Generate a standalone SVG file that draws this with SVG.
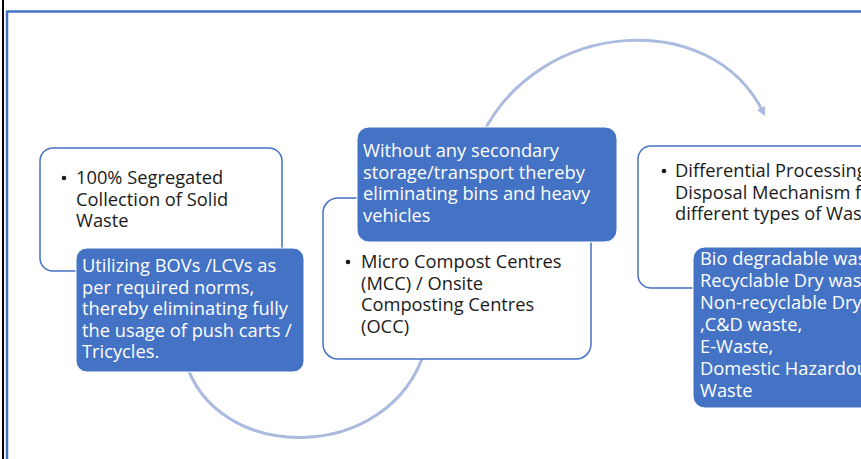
<svg xmlns="http://www.w3.org/2000/svg" width="861" height="459" viewBox="0 0 861 459">
<style>
.wbox{fill:#fff;stroke:#4472C4;stroke-width:1.5}
.bbox{fill:#4472C4;stroke:#fff;stroke-width:1}
.arc{fill:none;stroke:#ABBADF;stroke-width:3}
text{font-family:"Open Sans","Liberation Sans",sans-serif;font-size:18.3px}
.dk{fill:#1a1a1a}
.wt{fill:#fff}
</style>
<defs>
<marker id="ah" viewBox="0 0 10 10" refX="5" refY="5" markerWidth="3" markerHeight="3" orient="auto" markerUnits="strokeWidth">
<path d="M0,0 L10,5 L0,10 z" fill="#ABBADF"/>
</marker>
</defs>
<rect x="0" y="0" width="861" height="459" fill="#fff"/>
<g id="frame">
<line x1="3" y1="0" x2="3" y2="459" stroke="#000" stroke-width="2"/>
<line x1="6" y1="11.5" x2="861" y2="11.5" stroke="#4472C4" stroke-width="2.5"/>
<line x1="7" y1="11" x2="7" y2="459" stroke="#4472C4" stroke-width="2.5"/>
</g>
<g id="connectors">
<path class="arc" d="M 482 135 C 540 18, 712 8, 763 112" marker-end="url(#ah)"/>
<path class="arc" d="M 185 360 C 215 465, 390 465, 425 350"/>
</g>
<g id="node1">
<rect class="wbox" x="40" y="148" width="242" height="123" rx="13"/>
<circle cx="64" cy="178" r="2.3" fill="#1a1a1a"/>
<text class="dk"><tspan x="76" y="184">100% Segregated</tspan><tspan x="76" y="205.5">Collection of Solid</tspan><tspan x="76" y="227">Waste</tspan></text>
</g>
<g id="node1b">
<rect class="bbox" x="76" y="248" width="228" height="124" rx="11"/>
<text class="wt"><tspan x="82" y="272">Utilizing BOVs /LCVs as</tspan><tspan x="82" y="293.5">per required norms,</tspan><tspan x="82" y="315">thereby eliminating fully</tspan><tspan x="82" y="336.5">the usage of push carts /</tspan><tspan x="82" y="358">Tricycles.</tspan></text>
</g>
<g id="node2">
<rect class="wbox" x="323" y="198" width="268" height="161" rx="15"/>
<circle cx="348" cy="262" r="2.3" fill="#1a1a1a"/>
<text class="dk"><tspan x="361" y="268">Micro Compost Centres</tspan><tspan x="361" y="289.5">(MCC) / Onsite</tspan><tspan x="361" y="311">Composting Centres</tspan><tspan x="361" y="332.5">(OCC)</tspan></text>
</g>
<g id="node2b">
<rect class="bbox" x="357" y="127" width="260" height="115" rx="12"/>
<text class="wt"><tspan x="363" y="157">Without any secondary</tspan><tspan x="363" y="178.5">storage/transport thereby</tspan><tspan x="363" y="200">eliminating bins and heavy</tspan><tspan x="363" y="221.5">vehicles</tspan></text>
</g>
<g id="node3">
<rect class="wbox" x="638" y="146" width="240" height="142" rx="13"/>
<circle cx="664" cy="171" r="2.3" fill="#1a1a1a"/>
<text class="dk"><tspan x="675" y="177">Differential Processing</tspan><tspan x="675" y="198.5">Disposal Mechanism for</tspan><tspan x="675" y="220">different types of Waste</tspan></text>
</g>
<g id="node3b">
<rect class="bbox" x="693" y="247" width="200" height="161" rx="12"/>
<text class="wt"><tspan x="700" y="265">Bio degradable waste</tspan><tspan x="700" y="287">Recyclable Dry waste</tspan><tspan x="700" y="309">Non-recyclable Dry</tspan><tspan x="700" y="331">,C&amp;D waste,</tspan><tspan x="700" y="353">E-Waste,</tspan><tspan x="700" y="375">Domestic Hazardous</tspan><tspan x="700" y="397">Waste</tspan></text>
</g>
</svg>
